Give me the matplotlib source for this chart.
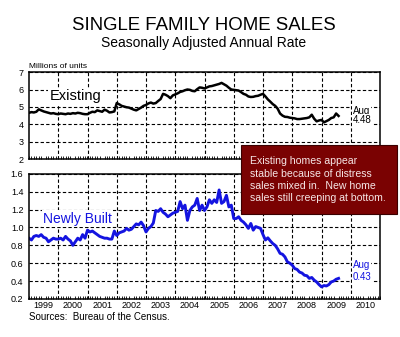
import numpy as np
import matplotlib
matplotlib.use("Agg")
import matplotlib.pyplot as plt
from matplotlib.patches import Rectangle

plt.rcParams['font.family'] = ['Liberation Sans', 'DejaVu Sans']

# monthly data, Jan 1999 - Aug 2009 (millions of units, SAAR)
start_year = 1999
existing = [
    4.66, 4.70, 4.68, 4.72, 4.86, 4.80, 4.74, 4.70, 4.66, 4.62, 4.64, 4.60,   # 1999
    4.58, 4.62, 4.60, 4.58, 4.62, 4.60, 4.64, 4.62, 4.66, 4.64, 4.60, 4.58,   # 2000
    4.58, 4.66, 4.72, 4.70, 4.80, 4.76, 4.72, 4.84, 4.78, 4.68, 4.70, 4.74,   # 2001
    5.22, 5.15, 5.06, 5.02, 4.98, 4.96, 4.90, 4.84, 4.80, 4.88, 4.96, 5.06,   # 2002
    5.11, 5.20, 5.25, 5.19, 5.22, 5.34, 5.45, 5.75, 5.70, 5.62, 5.50, 5.66,   # 2003
    5.72, 5.78, 5.86, 5.90, 5.96, 6.00, 5.98, 5.92, 5.90, 6.02, 6.12, 6.10,   # 2004
    6.06, 6.12, 6.18, 6.20, 6.24, 6.28, 6.32, 6.38, 6.30, 6.22, 6.10, 6.00,   # 2005
    5.98, 5.96, 5.94, 5.85, 5.75, 5.70, 5.60, 5.57, 5.58, 5.62, 5.64, 5.70,   # 2006
    5.75, 5.60, 5.43, 5.30, 5.16, 5.06, 4.90, 4.62, 4.50, 4.43, 4.42, 4.38,   # 2007
    4.36, 4.34, 4.30, 4.30, 4.32, 4.34, 4.36, 4.40, 4.55, 4.32, 4.17, 4.22,   # 2008
    4.25, 4.11, 4.18, 4.25, 4.36, 4.40, 4.62, 4.48,                           # 2009
]
newly_built = [
    0.88, 0.86, 0.90, 0.91, 0.90, 0.92, 0.89, 0.88, 0.84, 0.86, 0.88, 0.87,   # 1999
    0.87, 0.88, 0.86, 0.90, 0.87, 0.85, 0.80, 0.84, 0.88, 0.86, 0.92, 0.88,   # 2000
    0.97, 0.95, 0.96, 0.94, 0.92, 0.90, 0.89, 0.88, 0.88, 0.87, 0.87, 0.96,   # 2001
    0.91, 0.94, 0.95, 0.96, 0.99, 0.97, 0.98, 1.01, 1.04, 1.03, 1.06, 1.02,   # 2002
    0.95, 0.99, 1.01, 1.05, 1.19, 1.18, 1.21, 1.17, 1.15, 1.12, 1.14, 1.16,   # 2003
    1.17, 1.18, 1.29, 1.21, 1.25, 1.08, 1.19, 1.23, 1.25, 1.325, 1.19, 1.25,  # 2004
    1.19, 1.23, 1.31, 1.27, 1.31, 1.28, 1.42, 1.27, 1.29, 1.36, 1.23, 1.25,   # 2005
    1.10, 1.10, 1.12, 1.08, 1.06, 1.03, 0.99, 1.045, 0.97, 1.01, 1.00, 0.99,  # 2006
    0.92, 0.86, 0.884, 0.85, 0.82, 0.80, 0.76, 0.71, 0.70, 0.67, 0.615, 0.60, # 2007
    0.578, 0.54, 0.53, 0.50, 0.49, 0.465, 0.46, 0.43, 0.44, 0.41, 0.39, 0.36, # 2008
    0.335, 0.35, 0.345, 0.36, 0.39, 0.40, 0.42, 0.43,                         # 2009
]
years = list(range(1999, 2011))
existing_ticks = [2, 3, 4, 5, 6, 7]
new_ticks = [0.2, 0.4, 0.6, 0.8, 1.0, 1.2, 1.4, 1.6]

t = start_year + np.arange(len(existing)) / 12.0

fig = plt.figure(figsize=(4.0, 3.37), dpi=100)
ax1 = fig.add_axes([0.0725, 0.528, 0.8775, 0.258])
ax2 = fig.add_axes([0.0725, 0.113, 0.8775, 0.371])

blue = '#1414e0'
xmin, xmax = years[0], years[-1] + 1
label_bg = dict(facecolor='white', edgecolor='none', pad=1.0)
small_bg = dict(facecolor='white', edgecolor='none', pad=0.5)


def style_axis(ax, show_years):
    ax.set_xlim(xmin, xmax)
    # monthly ticks along the bottom
    ax.set_xticks(np.arange(xmin, xmax + 1e-6, 1 / 12.0), minor=True)
    ax.tick_params(axis='x', which='minor', direction='in', length=2,
                   width=0.6, top=False)
    mids = [y + 0.5 for y in years]
    ax.set_xticks(mids)
    if show_years:
        ax.set_xticklabels([str(y) for y in years], fontsize=6.5)
    else:
        ax.set_xticklabels([])
    ax.tick_params(axis='x', which='major', length=0, pad=1.5)
    ax.tick_params(axis='y', length=0, pad=4, labelsize=6.5)
    ax.grid(axis='y', color='black', linestyle=(0, (3, 2)), linewidth=0.8)
    for y in years[1:]:
        ax.axvline(y, color='black', linestyle=(0, (3, 2)), linewidth=0.8,
                   zorder=1)
    for s in ax.spines.values():
        s.set_linewidth(1.1)
        s.set_zorder(5)


# existing homes
ax1.plot(t, existing, color='black', linewidth=1.8, zorder=3)
ax1.set_ylim(2, 7)
ax1.set_yticks(existing_ticks)
style_axis(ax1, False)
ax1.text(1999.7, 5.62, 'Existing', fontsize=10.5, va='center', ha='left',
         bbox=label_bg, zorder=2)
ax1.text(2010.08, existing[-1] + 0.27, 'Aug', fontsize=7, ha='left',
         va='center', bbox=small_bg, zorder=2)
ax1.text(2010.08, existing[-1] - 0.24, f'{existing[-1]:.2f}', fontsize=7,
         ha='left', va='center', bbox=small_bg, zorder=2)

# new homes
ax2.plot(t, newly_built, color=blue, linewidth=2.1, zorder=3)
ax2.set_ylim(0.2, 1.6)
ax2.set_yticks(new_ticks)
ax2.set_yticklabels([f'{v:.1f}' for v in new_ticks])
style_axis(ax2, True)
ax2.text(1999.48, 1.1, 'Newly Built', fontsize=10, color=blue,
         va='center', ha='left', bbox=label_bg, zorder=2)
ax2.text(2010.08, newly_built[-1] + 0.155, 'Aug', fontsize=7, color=blue,
         ha='left', va='center', bbox=small_bg, zorder=2)
ax2.text(2010.08, newly_built[-1] + 0.015, f'{newly_built[-1]:.2f}',
         fontsize=7, color=blue, ha='left', va='center', bbox=small_bg,
         zorder=2)

fig.text(0.51, 0.925, 'SINGLE FAMILY HOME SALES', fontsize=13.4,
         ha='center', va='center')
fig.text(0.51, 0.873, 'Seasonally Adjusted Annual Rate', fontsize=10,
         ha='center', va='center')
fig.text(0.0725, 0.804, 'Millions of units', fontsize=6, ha='left', va='center')
fig.text(0.0725, 0.058, 'Sources:  Bureau of the Census.', fontsize=7,
         ha='left', va='center')

# comment box
fig.patches.append(Rectangle((0.6025, 0.365), 0.39, 0.205,
                             transform=fig.transFigure, facecolor='#7a0202',
                             edgecolor='#3a0000', linewidth=0.8, zorder=10))
fig.text(0.625, 0.467,
         'Existing homes appear\nstable because of distress\n'
         'sales mixed in.  New home\nsales still creeping at bottom.',
         fontsize=7.6, color='#f6e6e6', ha='left', va='center',
         linespacing=1.28, zorder=11)

fig.savefig('out.png', dpi=100)
